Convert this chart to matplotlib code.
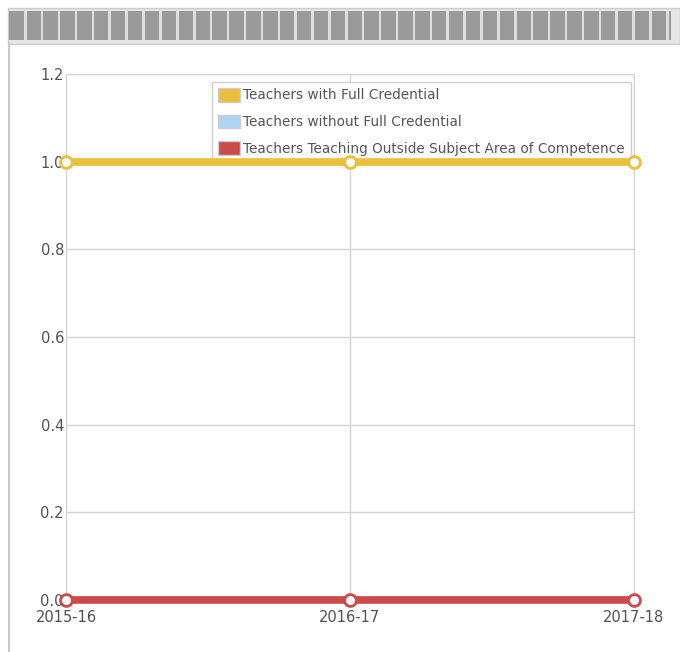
import matplotlib
matplotlib.use("Agg")
import matplotlib.pyplot as plt
from matplotlib.patches import Rectangle, Patch
from matplotlib.lines import Line2D

years = ['2015-16', '2016-17', '2017-18']
full_cred = [1.0, 1.0, 1.0]
without_cred = [0.0, 0.0, 0.0]
outside_subject = [0.0, 0.0, 0.0]
series_names = ['Teachers with Full Credential',
                'Teachers without Full Credential',
                'Teachers Teaching Outside Subject Area of Competence']
colors = ['#EBBE3C', '#AED4F5', '#CC4A4A']

fig = plt.figure(figsize=(6.8, 6.52), dpi=100)
W, H = 680, 652

# striped header bar
fig.patches.append(Rectangle((8 / W, 1 - 44 / H), 672 / W, 36 / H,
                             transform=fig.transFigure, facecolor='#e6e6e6',
                             edgecolor='#cccccc', lw=1))
fig.patches.append(Rectangle((9 / W, 1 - 40 / H), 662 / W, 29 / H,
                             transform=fig.transFigure, facecolor='#9a9a9a',
                             edgecolor='none'))
sx = 24
while sx < 670:
    fig.patches.append(Rectangle((sx / W, 1 - 40 / H), 2.5 / W, 29 / H,
                                 transform=fig.transFigure, facecolor='#dedede',
                                 edgecolor='none'))
    sx += 16.9
# left border line
fig.add_artist(Line2D([8.5 / W, 8.5 / W], [0, 1 - 44 / H], transform=fig.transFigure,
                      color='#c8c8c8', lw=1.5))

ax = fig.add_axes([66 / W, 1 - 600 / H, (634 - 66) / W, (600 - 74) / H])
x = list(range(len(years)))

ax.plot(x, without_cred, color=colors[1], lw=5.5, zorder=3)
ax.plot(x, full_cred, color=colors[0], lw=5.5, marker='o', ms=8.5, mfc='white',
        mec=colors[0], mew=2, zorder=4, clip_on=False)
ax.plot(x, outside_subject, color=colors[2], lw=5.5, marker='o', ms=8.5, mfc='white',
        mec=colors[2], mew=2, zorder=5, clip_on=False)

ax.set_xlim(0, 2)
ax.set_ylim(0, 1.2)
ax.set_yticks([0, 0.2, 0.4, 0.6, 0.8, 1.0, 1.2])
ax.set_yticklabels(['0.0', '0.2', '0.4', '0.6', '0.8', '1.0', '1.2'])
ax.set_xticks(x)
ax.set_xticklabels(years)
ax.grid(True, color='#d4d4d4', lw=1)
ax.set_axisbelow(True)
for s in ax.spines.values():
    s.set_color('#d4d4d4')
ax.tick_params(length=0, labelsize=10.5, colors='#505050')
ax.tick_params(axis='y', pad=1.5)
ax.tick_params(axis='x', pad=7)

handles = [Patch(facecolor=c, edgecolor='#cccccc') for c in colors]
leg = ax.legend(handles, series_names, loc='upper left',
                bbox_to_anchor=((212 - 66) / 568, (600 - 82) / 526), frameon=True,
                fontsize=9.8, handlelength=1.6, handleheight=1.15,
                handletextpad=0.25, labelspacing=0.9, borderpad=0.45,
                borderaxespad=0, fancybox=False, labelcolor='#555555',
                framealpha=1)
leg.get_frame().set_edgecolor('#d0d0d0')
leg.get_frame().set_linewidth(1)
leg.set_zorder(3.5)

fig.savefig('out.png', dpi=100)
